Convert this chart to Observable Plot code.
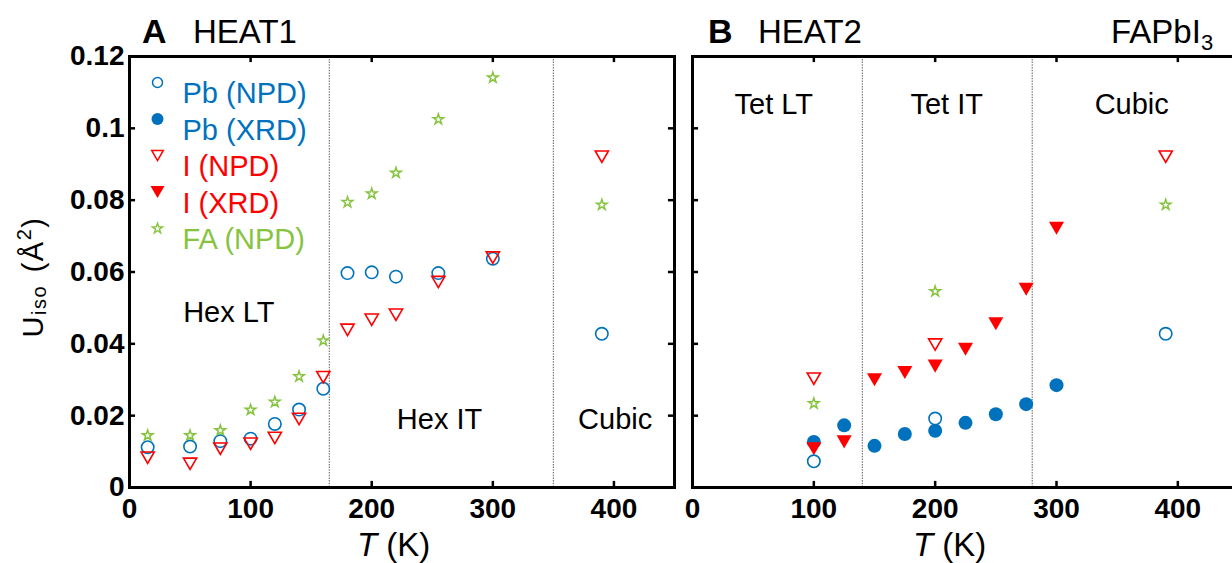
<!DOCTYPE html>
<html>
<head>
<meta charset="utf-8">
<script src="https://cdn.jsdelivr.net/npm/d3@7"></script>
<script src="https://cdn.jsdelivr.net/npm/@observablehq/plot@0.6"></script>
<style>
  html, body { margin: 0; padding: 0; background: #fff; overflow: hidden; }
  #wrap { position: relative; width: 1232px; height: 563px; overflow: hidden; background: #fff;
          font-family: "Liberation Sans", Arial, sans-serif; }
  #wrap svg { position: absolute; top: 0; max-width: none; }
</style>
</head>
<body>
<div id="wrap"></div>
<script>
// ---------- Data: panel A (HEAT1) ----------
const tA      = [15, 50, 75, 100, 120, 140, 160, 180, 200, 220, 255, 300, 390];
const pbNpdA  = [0.0112, 0.0114, 0.0129, 0.0136, 0.0177, 0.0217, 0.0275, 0.0597, 0.0599, 0.0587, 0.0597, 0.0637, 0.0428];
const iNpdA   = [0.0083, 0.0066, 0.0108, 0.0122, 0.0138, 0.0191, 0.0307, 0.0439, 0.0467, 0.0481, 0.0572, 0.0640, 0.0921];
const faNpdA  = [0.0145, 0.0145, 0.0159, 0.0216, 0.0238, 0.0309, 0.0409, 0.0794, 0.0818, 0.0876, 0.1025, 0.1141, 0.0787];

// ---------- Data: panel B (HEAT2) ----------
const tBxrd   = [100, 125, 150, 175, 200, 225, 250, 275, 300];
const pbXrdB  = [0.0127, 0.0173, 0.0116, 0.0149, 0.0158, 0.0180, 0.0204, 0.0232, 0.0285];
const iXrdB   = [0.0108, 0.0127, 0.0300, 0.0320, 0.0338, 0.0385, 0.0456, 0.0552, 0.0722];
const tBnpd   = [100, 200, 390];
const pbNpdB  = [0.0073, 0.0192, 0.0428];
const iNpdB   = [0.0303, 0.0398, 0.0921];
const faNpdB  = [0.0234, 0.0546, 0.0787];

// ---------- Axes, phases, legend ----------
const xTicks = [0, 100, 200, 300, 400];
const yTicks = [0, 0.02, 0.04, 0.06, 0.08, 0.1, 0.12];
const boundsA = [165, 350];
const boundsB = [140, 280];
const phaseA  = ["Hex LT", "Hex IT", "Cubic"];
const phaseAT = [82, 256, 401];
const phaseAU = [0.0487, 0.0189, 0.0189];
const phaseB  = ["Tet LT", "Tet IT", "Cubic"];
const phaseBT = [67, 209.5, 362];
const phaseBU = [0.1067, 0.1067, 0.1067];
const legendLabels = ["Pb (NPD)", "Pb (XRD)", "I (NPD)", "I (XRD)", "FA (NPD)"];

const blue = "#0072BD", red = "#FF0000", green = "#86C440";
const FONT = "Liberation Sans, Arial, sans-serif";

const triDown = {
  draw(ctx, size) {
    const w = Math.sqrt(4 * size / Math.sqrt(3));
    const h = w * Math.sqrt(3) / 2;
    ctx.moveTo(-w / 2, -h / 2);
    ctx.lineTo(w / 2, -h / 2);
    ctx.lineTo(0, h / 2);
    ctx.closePath();
  }
};

const styles = {
  "Pb (NPD)": {symbol: "circle", r: 6.2, stroke: blue, fill: "none", strokeWidth: 1.6},
  "Pb (XRD)": {symbol: "circle", r: 7, fill: blue, stroke: "none"},
  "I (NPD)":  {symbol: triDown, r: 4.9, stroke: red, fill: "none", strokeWidth: 1.6},
  "I (XRD)":  {symbol: triDown, r: 5.6, fill: red, stroke: "none"},
  "FA (NPD)": {symbol: "star", r: 3.3, stroke: green, fill: "none", strokeWidth: 1.5}
};
const legendStyles = {
  "Pb (NPD)": {symbol: "circle", r: 5, stroke: blue, fill: "none", strokeWidth: 1.5},
  "Pb (XRD)": {symbol: "circle", r: 6, fill: blue, stroke: "none"},
  "I (NPD)":  {symbol: triDown, r: 4.3, stroke: red, fill: "none", strokeWidth: 1.5},
  "I (XRD)":  {symbol: triDown, r: 5.2, fill: red, stroke: "none"},
  "FA (NPD)": {symbol: "star", r: 3.2, stroke: green, fill: "none", strokeWidth: 1.4}
};
const legendColors = [blue, blue, red, red, green];

const rows = (T, U) => T.map((t, i) => ({T: t, U: U[i]}));
const series = (T, U, name) => Plot.dot(rows(T, U), {x: "T", y: "U", ...styles[name]});

const xDomain = [0, 450], yDomain = [0, 0.12];
const tickLenY = 0.0017, tickLenX = 5;

function frameMarks(bounds, withRightTicks) {
  const m = [
    Plot.ruleX(bounds, {x: d => d, y1: 0, y2: 0.12, stroke: "#7a7a7a", strokeWidth: 1.2, strokeDasharray: "1.5,1.2"}),
    Plot.ruleX(xTicks.slice(1), {x: d => d, y1: 0, y2: tickLenY, stroke: "black", strokeWidth: 2.5}),
    Plot.ruleX(xTicks.slice(1), {x: d => d, y1: 0.12, y2: 0.12 - tickLenY, stroke: "black", strokeWidth: 2.5}),
    Plot.ruleY(yTicks.slice(1, -1), {y: d => d, x1: 0, x2: tickLenX, stroke: "black", strokeWidth: 2.5})
  ];
  if (withRightTicks) m.push(Plot.ruleY(yTicks.slice(1, -1), {y: d => d, x1: 450, x2: 450 - tickLenX, stroke: "black", strokeWidth: 2.5}));
  return m;
}

// ---------- Panel A ----------
const plotA = Plot.plot({
  width: 690, height: 563,
  marginLeft: 129, marginRight: 16, marginTop: 56, marginBottom: 76,
  style: {fontFamily: FONT, background: "none", overflow: "visible", color: "black"},
  x: {domain: xDomain},
  y: {domain: yDomain},
  marks: [
    ...frameMarks(boundsA, true),
    Plot.text(phaseA, {x: (d, i) => phaseAT[i], y: (d, i) => phaseAU[i], text: d => d, fontSize: 29, fill: "black"}),
    series(tA, pbNpdA, "Pb (NPD)"),
    series(tA, iNpdA, "I (NPD)"),
    series(tA, faNpdA, "FA (NPD)"),
    ...legendLabels.flatMap((lab, i) => [
      Plot.dot([lab], {frameAnchor: "top-left", dx: 28, dy: 26 + 36.5 * i, ...legendStyles[lab]}),
      Plot.text([lab], {frameAnchor: "top-left", dx: 53, dy: 26 + 36.5 * i, text: d => d, textAnchor: "start", fill: legendColors[i], fontSize: 29})
    ]),
    Plot.frame({stroke: "black", strokeWidth: 3}),
    Plot.axisX({ticks: xTicks, tickSize: 0, tickPadding: 11, fontSize: 28, fontWeight: "bold", label: null, tickFormat: d => String(d)}),
    Plot.axisY({ticks: yTicks, tickSize: 0, tickPadding: 5, fontSize: 28, fontWeight: "bold", label: null, tickFormat: d => String(d)})
  ]
});
plotA.style.left = "0px";

// ---------- Panel B ----------
const plotB = Plot.plot({
  width: 560, height: 563,
  marginLeft: 8, marginRight: 6, marginTop: 56, marginBottom: 76,
  style: {fontFamily: FONT, background: "none", overflow: "visible", color: "black"},
  x: {domain: xDomain},
  y: {domain: yDomain, axis: null},
  marks: [
    ...frameMarks(boundsB, false),
    Plot.text(phaseB, {x: (d, i) => phaseBT[i], y: (d, i) => phaseBU[i], text: d => d, fontSize: 29, fill: "black"}),
    series(tBxrd, pbXrdB, "Pb (XRD)"),
    series(tBxrd, iXrdB, "I (XRD)"),
    series(tBnpd, pbNpdB, "Pb (NPD)"),
    series(tBnpd, iNpdB, "I (NPD)"),
    series(tBnpd, faNpdB, "FA (NPD)"),
    Plot.frame({stroke: "black", strokeWidth: 3}),
    Plot.axisX({ticks: xTicks, tickSize: 0, tickPadding: 11, fontSize: 28, fontWeight: "bold", label: null, tickFormat: d => String(d)})
  ]
});
plotB.style.left = "684px";

const wrap = document.getElementById("wrap");
wrap.appendChild(plotA);
wrap.appendChild(plotB);

// ---------- Text: titles and axis labels ----------
function addText(svg, x, y, parts, opts = {}) {
  const t = d3.select(svg).append("text")
    .attr("x", x).attr("y", y)
    .attr("font-family", FONT)
    .attr("font-size", opts.size || 33)
    .attr("text-anchor", opts.anchor || "start")
    .attr("fill", "black");
  if (opts.transform) t.attr("transform", opts.transform).attr("x", 0).attr("y", 0);
  if (opts.spacing) t.attr("letter-spacing", opts.spacing);
  for (const p of parts) {
    const s = t.append("tspan").text(p.text);
    if (p.size) s.attr("font-size", p.size);
    if (p.weight) s.attr("font-weight", p.weight);
    if (p.italic) s.attr("font-style", "italic");
    if (p.dy) s.attr("dy", p.dy);
    if (p.dx) s.attr("dx", p.dx);
  }
  return t;
}

// Panel A title
addText(plotA, 142, 43, [{text: "A", weight: "bold", size: 34}]);
addText(plotA, 193, 43, [{text: "HEAT1"}]);
// Panel B title
addText(plotB, 24, 43, [{text: "B", weight: "bold", size: 34}]);
addText(plotB, 74, 43, [{text: "HEAT2"}]);
addText(plotB, 427, 43, [{text: "FAPbI"}, {text: "3", size: 22, dy: 7}]);

// x labels
addText(plotA, 357, 556, [{text: "T", italic: true}, {text: " (K)"}]);
addText(plotB, 229, 556, [{text: "T", italic: true}, {text: " (K)"}]);

// y label
addText(plotA, 0, 0, [
  {text: "U"},
  {text: "iso", size: 20, dy: 3},
  {text: " (Å", dy: -3, dx: 3},
  {text: "2", size: 20, dy: -12},
  {text: ")", dy: 12}
], {size: 29, anchor: "middle", transform: "translate(43,277) rotate(-90)", spacing: 1.5});
</script>
</body>
</html>
